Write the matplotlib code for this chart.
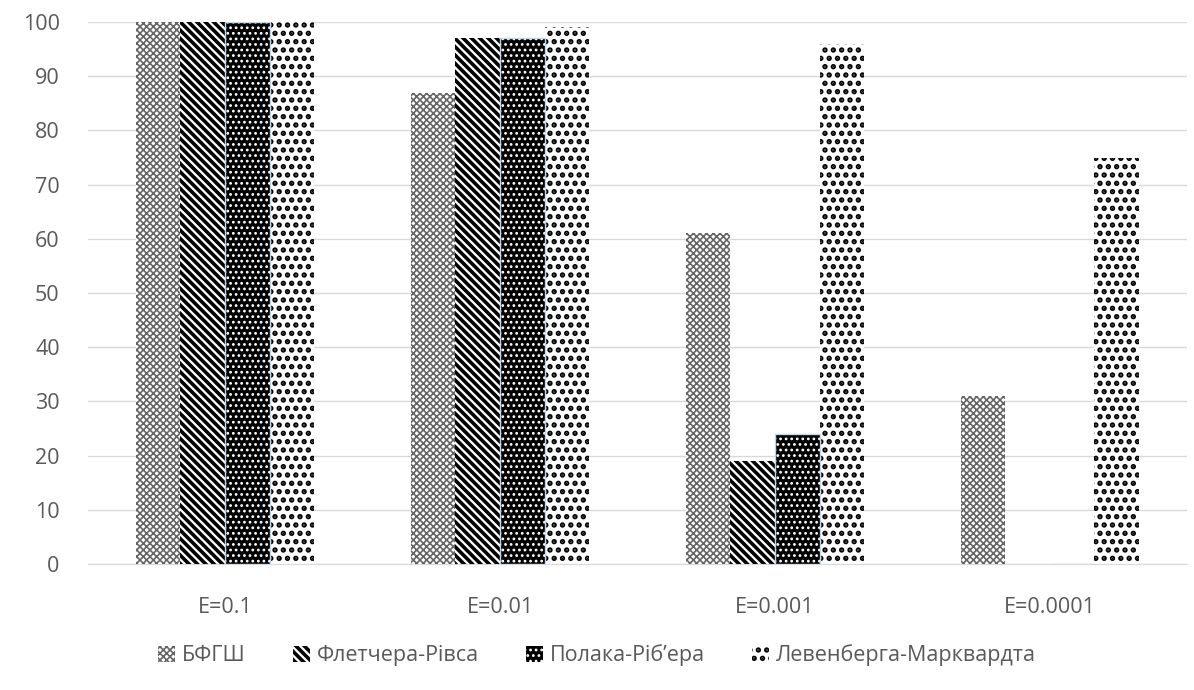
import numpy as np
import matplotlib.pyplot as plt

categories = ['E=0.1', 'E=0.01', 'E=0.001', 'E=0.0001']
methods = ['БФГШ', 'Флетчера-Рівса', 'Полака-Ріб\u2019ера', 'Левенберга-Марквардта']
values = [
    [100, 87, 61, 31],   # БФГШ
    [100, 97, 19, 0],    # Флетчера-Рівса
    [100, 97, 24, 0],    # Полака-Ріб'ера
    [100, 99, 96, 75],   # Левенберга-Марквардта
]

# face, hatch colour (edge), hatch pattern, hatch line width
styles = [
    ('white', '#666666', 'xxxxx', 1.2),
    ('white', 'black', '\\\\\\\\', 2.6),
    ('black', 'white', '...', 1.2),
    ('white', 'black', '..', 2.6),
]

plt.rcParams['font.family'] = ['Open Sans', 'DejaVu Sans']

fig = plt.figure(figsize=(11.94, 6.9), dpi=100)
ax = fig.add_axes([0.0733, 0.1826, 0.9212, 0.7854])

x = np.arange(len(categories))
width = 0.162
for i, (name, vals) in enumerate(zip(methods, values)):
    fc, hc, hatch, hlw = styles[i]
    pos = x + (i - 1.5) * width
    with plt.rc_context({'hatch.linewidth': hlw}):
        ax.bar(pos, vals, width, label=name,
               facecolor=fc, edgecolor=hc, hatch=hatch, linewidth=0, zorder=3)
    if fc == 'black':
        # thin light-blue outline around the dark bars
        ax.bar(pos, vals, width, facecolor='none', edgecolor='#bdd7ee',
               linewidth=1, zorder=4)

ax.set_xlim(-0.5, len(categories) - 0.5)
ax.set_ylim(0, 100)
ax.set_yticks(range(0, 101, 10))
ax.set_xticks(x)
ax.set_xticklabels(categories)
ax.tick_params(axis='both', length=0, labelsize=15.5, colors='#595959')
ax.tick_params(axis='y', pad=20)
ax.tick_params(axis='x', pad=24)
ax.grid(axis='y', color='#d9d9d9', linewidth=1, zorder=0)
for s in ['top', 'right', 'left']:
    ax.spines[s].set_visible(False)
ax.spines['bottom'].set_color('#d9d9d9')

leg = fig.legend(loc='center', bbox_to_anchor=(0.5, 0.05), ncol=4, frameon=False,
                 fontsize=15.5, labelcolor='#595959', handlelength=0.8, handleheight=0.8,
                 handletextpad=0.3, columnspacing=2.2)
for h, st in zip(leg.legend_handles, styles):
    if hasattr(h, 'set_hatch_linewidth'):
        h.set_hatch_linewidth(st[3])

fig.savefig('out.png', dpi=100)
